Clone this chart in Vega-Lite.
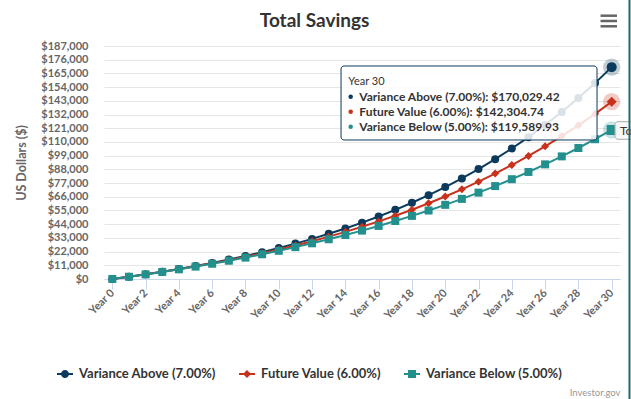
{
  "$schema": "https://vega.github.io/schema/vega-lite/v6.json",
  "width": 516,
  "height": 233,
  "autosize": {"type": "none"},
  "padding": {"left": 104, "top": 46, "right": 11, "bottom": 120},
  "background": "white",
  "config": {"font": "Lato", "view": {"stroke": null}},
  "layer": [
    {
      "data": {"values": [
        {"year": 0, "above": 0, "fv": 0, "below": 0},
        {"year": 1, "above": 1800, "fv": 1800, "below": 1800},
        {"year": 2, "above": 3726, "fv": 3708, "below": 3690},
        {"year": 3, "above": 5786.82, "fv": 5730.48, "below": 5674.5},
        {"year": 4, "above": 7991.9, "fv": 7874.31, "below": 7758.23},
        {"year": 5, "above": 10351.33, "fv": 10146.77, "below": 9946.14},
        {"year": 6, "above": 12875.92, "fv": 12555.57, "below": 12243.44},
        {"year": 7, "above": 15577.24, "fv": 15108.91, "below": 14655.61},
        {"year": 8, "above": 18467.65, "fv": 17815.44, "below": 17188.4},
        {"year": 9, "above": 21560.38, "fv": 20684.37, "below": 19847.82},
        {"year": 10, "above": 24869.61, "fv": 23725.43, "below": 22640.21},
        {"year": 11, "above": 28410.48, "fv": 26948.96, "below": 25572.22},
        {"year": 12, "above": 32199.21, "fv": 30365.89, "below": 28650.83},
        {"year": 13, "above": 36253.16, "fv": 33987.85, "below": 31883.37},
        {"year": 14, "above": 40590.88, "fv": 37827.12, "below": 35277.54},
        {"year": 15, "above": 45232.24, "fv": 41896.75, "below": 38841.42},
        {"year": 16, "above": 50198.5, "fv": 46210.55, "below": 42583.49},
        {"year": 17, "above": 55512.39, "fv": 50783.18, "below": 46512.66},
        {"year": 18, "above": 61198.26, "fv": 55630.17, "below": 50638.29},
        {"year": 19, "above": 67282.14, "fv": 60767.99, "below": 54970.21},
        {"year": 20, "above": 73791.89, "fv": 66214.06, "below": 59518.72},
        {"year": 21, "above": 80757.32, "fv": 71986.91, "below": 64294.65},
        {"year": 22, "above": 88210.33, "fv": 78106.12, "below": 69309.39},
        {"year": 23, "above": 96185.05, "fv": 84592.49, "below": 74574.86},
        {"year": 24, "above": 104718.01, "fv": 91468.04, "below": 80103.6},
        {"year": 25, "above": 113848.27, "fv": 98756.12, "below": 85908.78},
        {"year": 26, "above": 123617.65, "fv": 106481.49, "below": 92004.22},
        {"year": 27, "above": 134070.88, "fv": 114670.38, "below": 98404.43},
        {"year": 28, "above": 145255.84, "fv": 123350.6, "below": 105124.65},
        {"year": 29, "above": 157223.75, "fv": 132551.64, "below": 112180.88},
        {"year": 30, "above": 170029.42, "fv": 142304.74, "below": 119589.93}
      ]},
      "transform": [{"fold": ["above", "fv", "below"], "as": ["series", "value"]}],
      "encoding": {
        "x": {"field": "year", "type": "quantitative", "scale": {"domain": [-0.5, 30.5], "nice": false, "zero": false},
          "axis": {"title": "Investor.gov", "values": [0,2,4,6,8,10,12,14,16,18,20,22,24,26,28,30], "tickCount": 100, "labelExpr": "'Year ' + datum.value", "grid": false, "labelOverlap": false,
            "domainColor": "#ccd6eb", "tickColor": "#ccd6eb", "tickSize": 10, "labelAngle": -45, "labelAlign": "right", "labelBaseline": "middle", "labelPadding": 2,
            "labelFont": "Lato", "labelFontSize": 11, "labelFontWeight": "bold", "labelColor": "#666666",
            "titleFont": "Lato", "titleFontSize": 9.5, "titleFontWeight": "normal", "titleColor": "#999999", "titleX": 516, "titleY": 113, "titleAlign": "right", "titleBaseline": "middle", "titleAnchor": "end"}},
        "y": {"field": "value", "type": "quantitative", "scale": {"domain": [0, 187000], "nice": false, "zero": true},
          "axis": {"title": "US Dollars ($)", "values": [0,11000,22000,33000,44000,55000,66000,77000,88000,99000,110000,121000,132000,143000,154000,165000,176000,187000], "tickCount": 100, "format": "$,.0f",
            "grid": true, "gridColor": "#e6e6e6", "domain": false, "ticks": false, "labelPadding": 16, "labelOverlap": false,
            "labelFont": "Lato", "labelFontSize": 11, "labelFontWeight": "bold", "labelColor": "#666666",
            "titleFont": "Lato", "titleFontSize": 12.5, "titleFontWeight": "bold", "titleColor": "#666666", "titleX": -83, "titleY": 116.5, "titleAngle": -90, "titleAlign": "center", "titleBaseline": "middle"}}
      },
      "layer": [
        {
          "transform": [{"filter": {"field": "series", "equal": "above"}}],
          "layer": [
            {"mark": {"type": "line", "strokeWidth": 2, "color": "#0b3a5c"}},
            {"mark": {"type": "point", "shape": "circle", "filled": true, "size": 64, "opacity": 1, "color": "#0b3a5c"}},
            {"transform": [{"filter": {"field": "year", "equal": 30}}], "mark": {"type": "point", "shape": "circle", "filled": true, "size": 300, "opacity": 0.25, "color": "#0b3a5c"}},
            {"transform": [{"filter": {"field": "year", "equal": 30}}], "mark": {"type": "point", "shape": "circle", "filled": true, "size": 100, "opacity": 1, "color": "#0b3a5c"}}
          ]
        },
        {
          "transform": [{"filter": {"field": "series", "equal": "fv"}}],
          "layer": [
            {"mark": {"type": "line", "strokeWidth": 2, "color": "#c8321d"}},
            {"mark": {"type": "point", "shape": "diamond", "filled": true, "size": 64, "opacity": 1, "color": "#c8321d"}},
            {"transform": [{"filter": {"field": "year", "equal": 30}}], "mark": {"type": "point", "shape": "circle", "filled": true, "size": 300, "opacity": 0.25, "color": "#c8321d"}},
            {"transform": [{"filter": {"field": "year", "equal": 30}}], "mark": {"type": "point", "shape": "diamond", "filled": true, "size": 100, "opacity": 1, "color": "#c8321d"}}
          ]
        },
        {
          "transform": [{"filter": {"field": "series", "equal": "below"}}],
          "layer": [
            {"mark": {"type": "line", "strokeWidth": 2, "color": "#24908e"}},
            {"mark": {"type": "point", "shape": "square", "filled": true, "size": 64, "opacity": 1, "color": "#24908e"}},
            {"transform": [{"filter": {"field": "year", "equal": 30}}], "mark": {"type": "point", "shape": "circle", "filled": true, "size": 300, "opacity": 0.25, "color": "#24908e"}},
            {"transform": [{"filter": {"field": "year", "equal": 30}}], "mark": {"type": "point", "shape": "square", "filled": true, "size": 100, "opacity": 1, "color": "#24908e"}}
          ]
        },
        {
          "transform": [{"filter": "datum.year < 0"}],
          "mark": {"type": "point", "filled": true, "opacity": 1},
          "encoding": {
            "color": {"field": "series", "type": "nominal",
              "scale": {"domain": ["above", "fv", "below"], "range": ["#0b3a5c", "#c8321d", "#24908e"]},
              "legend": {"orient": "none", "legendX": -48, "legendY": 319, "direction": "horizontal", "title": null,
                "labelExpr": "datum.value === 'above' ? 'Variance Above (7.00%)' : datum.value === 'fv' ? 'Future Value (6.00%)' : 'Variance Below (5.00%)'",
                "labelFont": "Lato", "labelFontSize": 13, "labelFontWeight": "bold", "labelColor": "#333333",
                "symbolSize": 256, "symbolOpacity": 1, "labelOffset": 5, "columnPadding": 20}},
            "shape": {"field": "series", "type": "nominal",
              "scale": {"domain": ["above", "fv", "below"], "range": [
                "M-1,-0.125L1,-0.125L1,0.125L-1,0.125Z M-0.5,0A0.5,0.5 0 1,1 0.5,0A0.5,0.5 0 1,1 -0.5,0Z",
                "M-1,-0.125L1,-0.125L1,0.125L-1,0.125Z M0,-0.5L0.5,0L0,0.5L-0.5,0Z",
                "M-1,-0.125L1,-0.125L1,0.125L-1,0.125Z M-0.5,-0.5L0.5,-0.5L0.5,0.5L-0.5,0.5Z"]},
              "legend": {"orient": "none", "legendX": -48, "legendY": 319, "direction": "horizontal", "title": null,
                "labelExpr": "datum.value === 'above' ? 'Variance Above (7.00%)' : datum.value === 'fv' ? 'Future Value (6.00%)' : 'Variance Below (5.00%)'",
                "labelFont": "Lato", "labelFontSize": 13, "labelFontWeight": "bold", "labelColor": "#333333",
                "symbolSize": 256, "symbolOpacity": 1, "labelOffset": 5, "columnPadding": 20}}
          }
        }
      ]
    },
    {
      "data": {"values": [{}]},
      "mark": {"type": "text", "text": "Total Savings", "align": "center", "baseline": "middle", "font": "Lato", "fontSize": 19, "fontWeight": "bold", "color": "#333333"},
      "encoding": {"x": {"datum": 12.15, "type": "quantitative"}, "y": {"datum": 206664, "type": "quantitative"}}
    },
    {
      "data": {"values": [{}]},
      "mark": {"type": "rect", "fill": "white", "fillOpacity": 0.85, "stroke": "#0b3a5c", "strokeWidth": 1, "cornerRadius": 3},
      "encoding": {"x": {"datum": 13.74, "type": "quantitative"}, "x2": {"datum": 29.12}, "y": {"datum": 170950, "type": "quantitative"}, "y2": {"datum": 111559}}
    },
    {
      "data": {"values": [{}]},
      "mark": {"type": "text", "text": "Year 30", "align": "left", "baseline": "middle", "font": "Lato", "fontSize": 11, "color": "#333333"},
      "encoding": {"x": {"datum": 14.18, "type": "quantitative"}, "y": {"datum": 157868, "type": "quantitative"}}
    },
    {
      "data": {"values": [{}]},
      "mark": {"type": "text", "text": ["Variance Above (7.00%): $170,029.42", "Future Value (6.00%): $142,304.74", "Variance Below (5.00%): $119,589.93"], "lineHeight": 15, "align": "left", "baseline": "middle", "font": "Lato", "fontSize": 12, "fontWeight": "bold", "color": "#333333"},
      "encoding": {"x": {"datum": 14.84, "type": "quantitative"}, "y": {"datum": 146310, "type": "quantitative"}}
    },
    {
      "data": {"values": [{}]},
      "mark": {"type": "point", "shape": "circle", "filled": true, "size": 20, "color": "#0b3a5c", "opacity": 1},
      "encoding": {"x": {"datum": 14.32, "type": "quantitative"}, "y": {"datum": 146310, "type": "quantitative"}}
    },
    {
      "data": {"values": [{}]},
      "mark": {"type": "point", "shape": "circle", "filled": true, "size": 20, "color": "#c8321d", "opacity": 1},
      "encoding": {"x": {"datum": 14.32, "type": "quantitative"}, "y": {"datum": 134272, "type": "quantitative"}}
    },
    {
      "data": {"values": [{}]},
      "mark": {"type": "point", "shape": "circle", "filled": true, "size": 20, "color": "#24908e", "opacity": 1},
      "encoding": {"x": {"datum": 14.32, "type": "quantitative"}, "y": {"datum": 122233, "type": "quantitative"}}
    },
    {
      "data": {"values": [{}]},
      "mark": {"type": "rect", "fill": "#f7f7f7", "fillOpacity": 0.9, "stroke": "#aaaaaa", "strokeWidth": 1, "cornerRadius": 3},
      "encoding": {"x": {"datum": 30.2, "type": "quantitative"}, "x2": {"datum": 32.5}, "y": {"datum": 126246, "type": "quantitative"}, "y2": {"datum": 112120}}
    },
    {
      "data": {"values": [{}]},
      "mark": {"type": "text", "text": "To", "align": "left", "baseline": "middle", "font": "Lato", "fontSize": 12, "color": "#333333"},
      "encoding": {"x": {"datum": 30.5, "type": "quantitative"}, "y": {"datum": 119022, "type": "quantitative"}}
    },
    {
      "data": {"values": [{}]},
      "mark": {"type": "rule", "stroke": "#666666", "strokeWidth": 2.5},
      "encoding": {"x": {"datum": 29.33, "type": "quantitative"}, "x2": {"datum": 30.32}, "y": {"datum": 211319, "type": "quantitative"}}
    },
    {
      "data": {"values": [{}]},
      "mark": {"type": "rule", "stroke": "#666666", "strokeWidth": 2.5},
      "encoding": {"x": {"datum": 29.33, "type": "quantitative"}, "x2": {"datum": 30.32}, "y": {"datum": 207066, "type": "quantitative"}}
    },
    {
      "data": {"values": [{}]},
      "mark": {"type": "rule", "stroke": "#666666", "strokeWidth": 2.5},
      "encoding": {"x": {"datum": 29.33, "type": "quantitative"}, "x2": {"datum": 30.32}, "y": {"datum": 202813, "type": "quantitative"}}
    },
    {
      "data": {"values": [{}]},
      "mark": {"type": "rule", "stroke": "#1d6b6e", "strokeWidth": 2},
      "encoding": {"x": {"datum": 31.07, "type": "quantitative"}, "y": {"datum": 230000, "type": "quantitative"}, "y2": {"datum": -100000}}
    }
  ]
}
